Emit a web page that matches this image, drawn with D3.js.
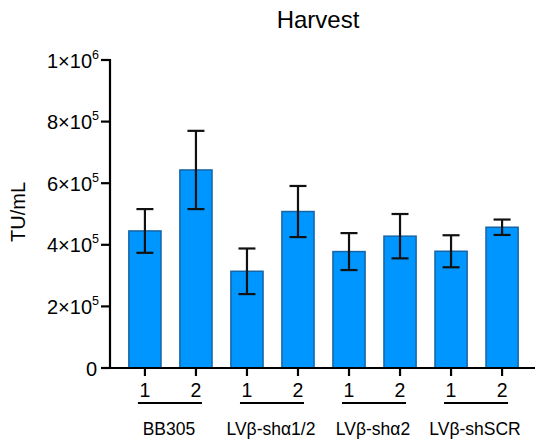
<!DOCTYPE html>
<html>
<head>
<meta charset="utf-8">
<script src="https://cdn.jsdelivr.net/npm/d3@7"></script>
<style>
  html, body { margin: 0; padding: 0; background: #fff; }
  svg { display: block; font-family: "Liberation Sans", Arial, sans-serif; }
</style>
</head>
<body>
<script>
// ---- data ----
const title = "Harvest";
const yLabel = "TU/mL";
const groups = ["BB305", "LVβ-shα1/2", "LVβ-shα2", "LVβ-shSCR"];
const replicates = ["1", "2"];
const means = [445000, 643000, 314000, 508000, 378000, 428000, 379000, 457000];
const errors = [71000, 127000, 74000, 83000, 60000, 72000, 52000, 25000];
const yTicks = [0, 200000, 400000, 600000, 800000, 1000000];

// ---- layout ----
const W = 537, H = 444;
const x0 = 110, x1 = 535, yBottom = 368, yTop = 60;

const svg = d3.select("body").append("svg").attr("width", W).attr("height", H);

const bars = [];
groups.forEach((g, gi) => replicates.forEach((r, ri) => {
  const i = gi * replicates.length + ri;
  bars.push({ id: i, group: g, rep: r, mean: means[i], err: errors[i] });
}));

const x = d3.scaleBand()
  .domain(bars.map(d => d.id))
  .range([x0 + 1, x1 + 1])
  .paddingInner(0.37)
  .paddingOuter(0.35);

const y = d3.scaleLinear().domain([0, 1000000]).range([yBottom, yTop]);

// bars
svg.append("g").selectAll("rect").data(bars).join("rect")
  .attr("x", d => x(d.id))
  .attr("y", d => y(d.mean))
  .attr("width", x.bandwidth())
  .attr("height", d => y(0) - y(d.mean))
  .attr("fill", "#0096ff")
  .attr("stroke", "#1565a6")
  .attr("stroke-width", 1.5);

// error bars
const cap = 8.5;
const eb = svg.append("g").attr("stroke", "#111").attr("stroke-width", 2.2);
bars.forEach(d => {
  const cx = x(d.id) + x.bandwidth() / 2;
  eb.append("line").attr("x1", cx).attr("x2", cx).attr("y1", y(d.mean + d.err)).attr("y2", y(d.mean - d.err));
  eb.append("line").attr("x1", cx - cap).attr("x2", cx + cap).attr("y1", y(d.mean + d.err)).attr("y2", y(d.mean + d.err));
  eb.append("line").attr("x1", cx - cap).attr("x2", cx + cap).attr("y1", y(d.mean - d.err)).attr("y2", y(d.mean - d.err));
});

// y axis
const yAxis = svg.append("g").attr("transform", `translate(${x0},0)`);
yAxis.append("line").attr("x1", 0).attr("x2", 0).attr("y1", y(1000000) - 1).attr("y2", yBottom + 1)
  .attr("stroke", "#000").attr("stroke-width", 2.2);
yTicks.forEach(t => {
  const ty = y(t);
  yAxis.append("line").attr("x1", -9).attr("x2", 0).attr("y1", ty).attr("y2", ty)
    .attr("stroke", "#000").attr("stroke-width", 2.2);
  const txt = yAxis.append("text")
    .attr("y", ty + 7.5)
    .attr("text-anchor", "end")
    .attr("font-size", 20)
    .attr("fill", "#000");
  if (t === 0) {
    txt.attr("x", -13).text("0");
  } else {
    const exp = Math.floor(Math.log10(t));
    const mant = t / Math.pow(10, exp);
    txt.attr("x", -11);
    txt.append("tspan").text(mant + "×10");
    txt.append("tspan").attr("font-size", 12.5).attr("dy", -9).text(exp);
  }
});

// x axis
const xAxis = svg.append("g");
xAxis.append("line").attr("x1", x0 - 1).attr("x2", x1).attr("y1", yBottom).attr("y2", yBottom)
  .attr("stroke", "#000").attr("stroke-width", 2.2);
bars.forEach(d => {
  const cx = x(d.id) + x.bandwidth() / 2;
  xAxis.append("line").attr("x1", cx).attr("x2", cx).attr("y1", yBottom).attr("y2", yBottom + 8)
    .attr("stroke", "#000").attr("stroke-width", 2.2);
  xAxis.append("text").attr("x", cx).attr("y", 397)
    .attr("text-anchor", "middle").attr("font-size", 19.5).attr("fill", "#000").text(d.rep);
});

// group underlines + labels
groups.forEach((g, gi) => {
  const first = bars[gi * replicates.length];
  const last = bars[gi * replicates.length + replicates.length - 1];
  const a = x(first.id) + x.bandwidth() / 2 - 7;
  const b = x(last.id) + x.bandwidth() / 2 + 6;
  xAxis.append("line").attr("x1", a).attr("x2", b).attr("y1", 403).attr("y2", 403)
    .attr("stroke", "#000").attr("stroke-width", 2.2);
  xAxis.append("text").attr("x", (a + b) / 2 - 1).attr("y", 435)
    .attr("text-anchor", "middle").attr("font-size", 17.5).attr("fill", "#000").text(g);
});

// title
svg.append("text").attr("x", 318).attr("y", 28).attr("text-anchor", "middle")
  .attr("font-size", 24).attr("fill", "#000").text(title);

// y label
svg.append("text").attr("transform", `translate(25,212) rotate(-90)`)
  .attr("text-anchor", "middle").attr("font-size", 20).attr("fill", "#000").text(yLabel);
</script>
</body>
</html>
